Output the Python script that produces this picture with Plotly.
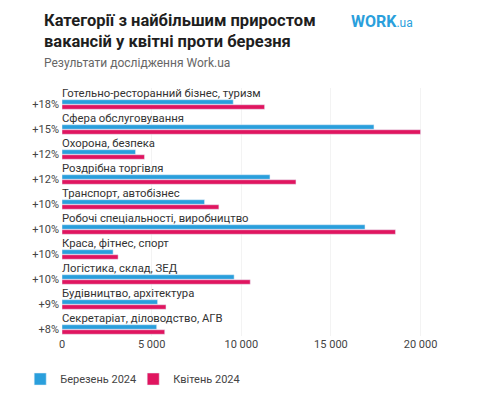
import plotly.graph_objects as go

# ---------- дані ----------
kategorii = [
    "Готельно-ресторанний бізнес, туризм",
    "Сфера обслуговування",
    "Охорона, безпека",
    "Роздрібна торгівля",
    "Транспорт, автобізнес",
    "Робочі спеціальності, виробництво",
    "Краса, фітнес, спорт",
    "Логістика, склад, ЗЕД",
    "Будівництво, архітектура",
    "Секретаріат, діловодство, АГВ",
]
pryrist = ["+18%", "+15%", "+12%", "+12%", "+10%", "+10%", "+10%", "+10%", "+9%", "+8%"]
berezen_2024 = [9550, 17400, 4100, 11600, 7950, 16900, 2850, 9600, 5330, 5280]
kviten_2024 = [11300, 20000, 4600, 13050, 8750, 18600, 3130, 10500, 5800, 5730]
x_ticks = [0, 5000, 10000, 15000, 20000]

BLUE = "#2a9fdc"
PINK = "#e0155f"
FONT = "Roboto"

fig = go.Figure()
fig.add_trace(go.Bar(y=kategorii, x=berezen_2024, orientation="h",
                     name="Березень 2024", marker_color=BLUE))
fig.add_trace(go.Bar(y=kategorii, x=kviten_2024, orientation="h",
                     name="Квітень 2024", marker_color=PINK))

# назви категорій над смугами
for k in kategorii:
    fig.add_annotation(x=0, y=k, xref="x", yref="y", text=k, showarrow=False,
                       xanchor="left", yanchor="middle", yshift=11, xshift=-2,
                       font=dict(family=FONT, size=11.3, color="#333"))

# заголовок, підзаголовок, лого
fig.add_annotation(xref="paper", yref="paper", x=-0.05, y=1.0, yshift=79,
                   text="<b>Категорії з найбільшим приростом<br>вакансій у квітні проти березня</b>",
                   showarrow=False, xanchor="left", yanchor="top", align="left",
                   font=dict(family=FONT, size=16.5, color="#1e1e1e"))
fig.add_annotation(xref="paper", yref="paper", x=-0.05, y=1.0, yshift=25,
                   text="Результати дослідження Work.ua", showarrow=False,
                   xanchor="left", yanchor="middle",
                   font=dict(family=FONT, size=12, color="#666"))
fig.add_annotation(xref="paper", yref="paper", x=0.72, y=1.0, yshift=67,
                   text="<b>WORK</b><span style='font-size:12px'>.ua</span>",
                   showarrow=False, xanchor="left", yanchor="middle",
                   font=dict(family=FONT, size=16, color=BLUE))

fig.update_layout(
    width=478, height=400,
    margin=dict(l=52, r=26, t=80, b=72),
    paper_bgcolor="white", plot_bgcolor="white",
    barmode="group", bargap=0.6, bargroupgap=0.1,
    separators=". ",
    font=dict(family=FONT, size=11, color="#444"),
    xaxis=dict(range=[0, 22200], tickvals=x_ticks, tickformat=",d",
               showgrid=True, gridcolor="#f3f3f3", zeroline=False, automargin=False,
               tickfont=dict(size=11, color="#444")),
    yaxis=dict(categoryorder="array", categoryarray=kategorii,
               range=[9.26, -0.66], tickvals=kategorii, ticktext=pryrist,
               showgrid=False, automargin=False, ticklabelstandoff=2,
               tickfont=dict(size=11, color="#444")),
    legend=dict(orientation="h", x=-0.105, y=-0.115, xanchor="left", yanchor="top",
                font=dict(size=11, color="#444"), entrywidth=68, entrywidthmode="pixels"),
    showlegend=True,
)

fig.write_html("out.html")
